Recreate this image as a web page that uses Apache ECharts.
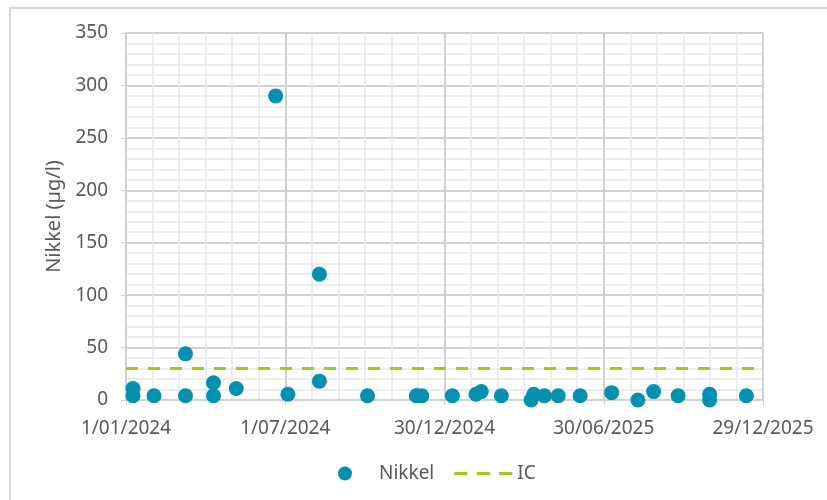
<!DOCTYPE html>
<html lang="nl">
<head>
    <meta charset="UTF-8">
    <title>Nikkel</title>
    <script src="https://cdn.jsdelivr.net/npm/echarts@6/dist/echarts.min.js"></script>
    <style>
        html, body { margin: 0; padding: 0; background: #fff; }
        #main { width: 827px; height: 500px; }
    </style>
</head>
<body>
<div id="main"></div>
<script>
    // meetdata nikkel (µg/l)
    var sampleDates = ['2024-01-09','2024-01-09','2024-02-02','2024-03-09','2024-03-09','2024-04-10','2024-04-10',
        '2024-05-06','2024-06-20','2024-07-04','2024-08-09','2024-08-09','2024-10-03','2024-11-28','2024-11-28',
        '2024-12-04','2025-01-08','2025-02-04','2025-02-10','2025-03-05','2025-04-08','2025-04-11','2025-04-23',
        '2025-05-09','2025-06-03','2025-07-09','2025-08-08','2025-08-26','2025-09-23','2025-10-29','2025-10-29',
        '2025-12-10'];
    var nikkelValues = [11, 4, 4, 44, 4, 16.5, 4,
        11, 290, 5.5, 120, 18, 4, 4, 4,
        4, 4, 5.5, 8, 4, 0, 5.5, 4,
        4, 4, 7, 0, 8, 4, 5.5, 0,
        4];
    var icValue = 30;
    var startDate = '2024-01-01';
    var endDate = '2025-12-29';
    var tickStepDays = 182;

    var DAY = 86400000;
    var t0 = Date.parse(startDate);
    function dayOf(s) { return Math.round((Date.parse(s) - t0) / DAY); }
    var lastDay = dayOf(endDate);

    var nikkelData = [];
    for (var i = 0; i < sampleDates.length; i++) {
        nikkelData.push([dayOf(sampleDates[i]), nikkelValues[i]]);
    }

    function fmtDay(d) {
        var dt = new Date(t0 + d * DAY);
        var m = dt.getUTCMonth() + 1;
        return dt.getUTCDate() + '/' + (m < 10 ? '0' + m : m) + '/' + dt.getUTCFullYear();
    }

    var txt = '#595959';
    var font = 'Noto Sans';
    var majorCol = '#CDD2D6';
    var minorCol = '#E5E8EB';
    var icCol = '#A5C820';

    var myChart = echarts.init(document.getElementById('main'));
    myChart.setOption({
        animation: false,
        textStyle: { fontFamily: font },
        graphic: [{
            type: 'rect',
            shape: { x: 10, y: 8, width: 900, height: 600 },
            style: { fill: 'none', stroke: '#D9D9D9', lineWidth: 2 },
            silent: true
        }],
        grid: { left: 126, right: 64, top: 33, bottom: 100 },
        legend: {
            left: 333, top: 459,
            itemWidth: 58, itemHeight: 14, itemGap: 20,
            textStyle: { color: txt, fontSize: 19, fontFamily: font },
            data: [
                { name: 'Nikkel', icon: 'circle' },
                // drie streepjes zoals de gestippelde IC-lijn
                { name: 'IC', icon: 'path://M0,0h13v3h-13z M22,0h13v3h-13z M44,0h13v3h-13z' }
            ]
        },
        xAxis: {
            type: 'value',
            min: 0, max: lastDay, interval: tickStepDays,
            axisLine: { show: true, lineStyle: { color: majorCol, width: 2 } },
            axisTick: { show: true, length: 5, lineStyle: { color: majorCol } },
            axisLabel: { color: txt, fontSize: 19, margin: 19, formatter: fmtDay },
            splitLine: { show: true, lineStyle: { color: majorCol, width: 2 } },
            minorTick: { show: false, splitNumber: 6 },
            minorSplitLine: { show: true, lineStyle: { color: minorCol, width: 1.5 } }
        },
        yAxis: {
            type: 'value',
            min: 0, max: 350, interval: 50,
            name: 'Nikkel (µg/l)',
            nameLocation: 'middle',
            nameGap: 58,
            nameTextStyle: { color: txt, fontSize: 20 },
            axisLine: { show: true, lineStyle: { color: majorCol, width: 2 } },
            axisTick: { show: true, length: 5, lineStyle: { color: majorCol } },
            axisLabel: { color: txt, fontSize: 19, margin: 18 },
            splitLine: { show: true, lineStyle: { color: majorCol, width: 2 } },
            minorTick: { show: false, splitNumber: 5 },
            minorSplitLine: { show: true, lineStyle: { color: minorCol, width: 1.5 } }
        },
        series: [{
            name: 'Nikkel',
            type: 'scatter',
            symbol: 'circle',
            symbolSize: 15,
            itemStyle: { color: '#0491AF', opacity: 1 },
            data: nikkelData,
            z: 3
        }, {
            name: 'IC',
            type: 'line',
            symbol: 'none',
            lineStyle: { color: icCol, width: 3, type: [12, 10] },
            itemStyle: { color: icCol },
            data: [[0, icValue], [lastDay, icValue]],
            z: 2
        }]
    });
</script>
</body>
</html>
